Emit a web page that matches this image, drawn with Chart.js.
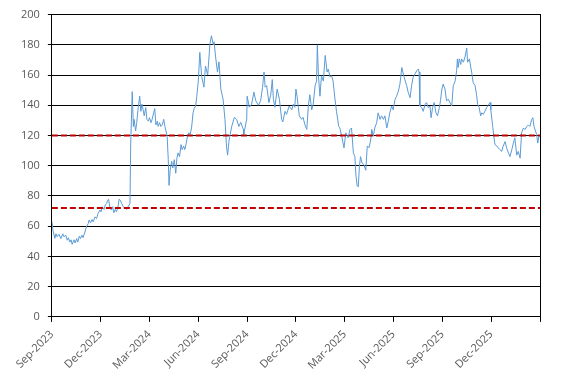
<!DOCTYPE html>
<html>
<head>
<meta charset="utf-8">
<script src="https://cdn.jsdelivr.net/npm/chart.js@4/dist/chart.umd.min.js"></script>
<style>
  html, body { margin: 0; padding: 0; background: #ffffff; }
  #wrap { width: 567px; height: 383px; }
</style>
</head>
<body>
<div id="wrap"><canvas id="c" width="567" height="383"></canvas></div>
<script>
// Quarter tick labels (one every 13 weeks)
const quarterLabels = ['Sep-2023','Dec-2023','Mar-2024','Jun-2024','Sep-2024','Dec-2024','Mar-2025','Jun-2025','Sep-2025','Dec-2025'];
const weeksPerQuarter = 13;

// Observation positions in weeks since start of Sep-2023
const weekPos = [
  0,0.3,0.8,1.1,1.4,1.9,2.4,2.9,3.2,3.7,4.1,4.4,4.8,5.1,5.4,5.9,6.2,6.6,6.9,7.3,7.6,8.0,8.3,8.8,9.2,9.7,9.9,10.3,10.7,11.0,11.5,11.9,12.3,12.8,13.1,13.4,13.9,14.2,14.6,14.8,15.1,15.5,15.9,16.2,16.5,16.9,17.2,17.6,17.9,18.3,18.6,19.0,19.4,19.9,20.3,20.8,
  21.0,21.4,21.7,21.9,22.3,22.6,23.0,23.4,23.7,24.0,24.3,24.6,25.0,25.3,25.7,26.0,26.4,26.7,27.1,27.4,27.7,28.1,28.3,28.7,29.0,29.4,29.8,30.1,30.4,30.7,31.0,31.2,31.5,31.9,32.2,32.6,33.0,33.3,33.6,34.0,34.4,34.7,35.1,35.4,35.8,36.1,36.5,36.8,37.2,37.6,37.9,38.3,38.6,39.0,
  39.4,39.9,40.5,40.9,41.5,42.1,42.5,43.0,43.2,43.6,44.1,44.5,45.0,45.6,46.1,46.5,46.8,47.2,47.9,48.6,49.2,49.8,50.3,51.0,51.1,
  51.9,52.0,52.6,53.2,53.8,54.3,55.0,55.6,56.1,56.5,56.8,57.2,57.8,58.3,58.7,59.0,59.4,60.0,60.6,61.2,61.5,62.1,62.5,63.2,63.9,64.3,64.7,65.0,65.3,65.9,66.5,66.9,67.4,67.9,68.3,68.7,69.2,69.6,70.1,70.5,70.7,71.0,71.4,71.8,72.3,72.8,73.3,73.6,74.1,74.5,74.9,75.4,75.8,76.4,
  76.7,77.2,77.8,78.3,78.9,79.4,79.8,80.3,80.7,81.0,81.3,81.6,81.9,82.2,82.6,83.1,83.6,84.0,84.5,84.9,85.2,85.6,86.0,86.5,86.9,87.4,87.8,88.3,88.7,89.2,89.6,90.0,90.5,90.9,91.4,91.8,92.3,92.7,93.2,93.6,94.0,94.5,94.9,95.4,95.8,96.2,96.7,97.2,97.6,97.8,98.0,98.5,98.9,99.4,99.8,100.2,100.7,101.0,101.4,101.8,102.3,102.7,103.2,
  103.5,103.8,104.2,104.7,105.1,105.6,106.0,106.5,106.9,107.4,107.8,108.0,108.2,108.5,108.9,109.1,109.6,110.0,110.5,110.7,111.2,111.5,111.8,112.2,112.7,113.1,113.4,113.8,114.2,114.5,114.9,115.3,115.8,116.2,116.7,116.9,117.4,117.7,118.0,118.5,118.9,119.3,119.8,120.2,120.7,121.1,121.6,122.0,122.5,122.9,123.3,123.8,124.2,124.7,125.1,125.6,126.0,126.5,126.9,127.3,127.8,128.1,128.4,128.8,129.1,129.4,129.7
];

// Series values
const values = [
  63,57,52,55,53,54.7,51.8,55,53,54,50.7,52.4,49.5,51,48,51,48.9,51.8,49.5,53.3,51.8,54,52.4,56.2,59.5,61.8,64,62.2,64.4,62.9,66.2,65,68.4,70.7,69.5,72.9,71.1,74,75,76.9,77.8,71.8,70.7,72.9,68.9,71.1,69.5,72.4,77.8,76.9,75,72.9,72.4,71.1,72.9,75,
  115,149,126,130.7,123,128.5,138.5,146,136,140.7,137,133,138.5,130.7,129.5,131.8,128.5,130.7,135,137.8,127,129.5,126,128.5,126,127,130.7,126,123,119.5,104,87,97,103,98.5,104,95,105,108.5,106,114,110.7,113,110.7,115,119.5,121.8,120.7,125,135,137.8,139.5,146,156,
  175,159,152,166,160,180.7,186,180,182,172,162,168.7,150.7,144,130.7,113,107,117,126,132,130.7,126,128.7,124,120.7,
  131,146,138.7,140.7,148.7,143,140,143,151.8,162,152,153,141.8,147,157,144,138.7,150.7,144,130.7,129,136,134,139.5,137,140.7,138.7,150.7,146,133,130.7,132,127,124,139.5,147,137,140.7,153,156,180,159.5,146,159.5,156,173,162,164,158.7,159.5,156,144,136,126,
  125,119.5,111.8,121.8,118.5,124,125,108.5,106,93,87,86,99.5,106,101.8,100.7,97,113,112,117,124,119.5,125,128.5,135,130.7,133,130.7,133,125,129.5,135,139.5,137,144,146,149.5,154,165,160.7,157,153,148.5,145,153,158.5,160.7,163,164,162,139.5,138.5,136,140.7,141.8,138.5,139.5,131.8,138.5,141.8,135,133,138.5,
  143,149.5,154,150.7,143,144,141.8,139.5,153,156,163,170.7,165,170.7,167,170.7,168.5,171.8,177.8,168.5,170.7,166,162,155,153,147,140.7,138.5,133,135,134,136,138.5,140,141.8,137,126,119.5,114,113,111.8,110.7,109.5,113,116,111.8,108.5,106,110.7,115,118.5,107,109.5,105,121.8,125,124,126,127,126,130.7,131.8,126,123,120.7,115,119.5
];

// Reference levels (red dashed lines)
const upperLevel = 120;
const lowerLevel = 72;

const totalWeeks = quarterLabels.length * weeksPerQuarter;
const seriesData = weekPos.map((w, i) => ({ x: w, y: values[i] }));
const levelData = (v) => [{ x: 0, y: v }, { x: totalWeeks, y: v }];

const fontSpec = { family: "'Open Sans', 'DejaVu Sans', sans-serif", size: 11 };
const textColor = '#595959';

new Chart(document.getElementById('c'), {
  type: 'line',
  data: {
    datasets: [
      { data: levelData(upperLevel), borderColor: '#C00000', borderWidth: 2, borderDash: [6, 3], pointRadius: 0, order: 0 },
      { data: levelData(lowerLevel), borderColor: '#C00000', borderWidth: 2, borderDash: [6, 3], pointRadius: 0, order: 0 },
      { data: seriesData, borderColor: '#5B9BD5', borderWidth: 1, pointRadius: 0, tension: 0, order: 1 }
    ]
  },
  options: {
    responsive: false,
    animation: false,
    devicePixelRatio: 1,
    layout: { padding: { top: 14, right: 27, bottom: 5, left: 13 } },
    plugins: { legend: { display: false }, tooltip: { enabled: false } },
    scales: {
      x: {
        type: 'linear',
        min: 0,
        max: totalWeeks,
        ticks: {
          stepSize: weeksPerQuarter,
          autoSkip: false,
          minRotation: 45,
          maxRotation: 45,
          padding: 6,
          color: textColor,
          font: fontSpec,
          callback: (v) => quarterLabels[Math.round(v / weeksPerQuarter)] || ''
        },
        grid: { display: true, drawOnChartArea: false, drawTicks: true, tickLength: 5, color: '#000000', lineWidth: 1 },
        border: { display: true, color: '#000000', width: 1 }
      },
      y: {
        min: 0,
        max: 200,
        ticks: { stepSize: 20, color: textColor, font: fontSpec, padding: 8 },
        grid: { color: '#000000', lineWidth: 1, tickLength: 4, drawTicks: true },
        border: { display: true, color: '#000000', width: 1 }
      },
      y2: {
        position: 'right',
        min: 0,
        max: 200,
        ticks: { display: false },
        grid: { display: false, drawTicks: false },
        border: { display: true, color: '#000000', width: 1 }
      }
    }
  }
});
</script>
</body>
</html>
